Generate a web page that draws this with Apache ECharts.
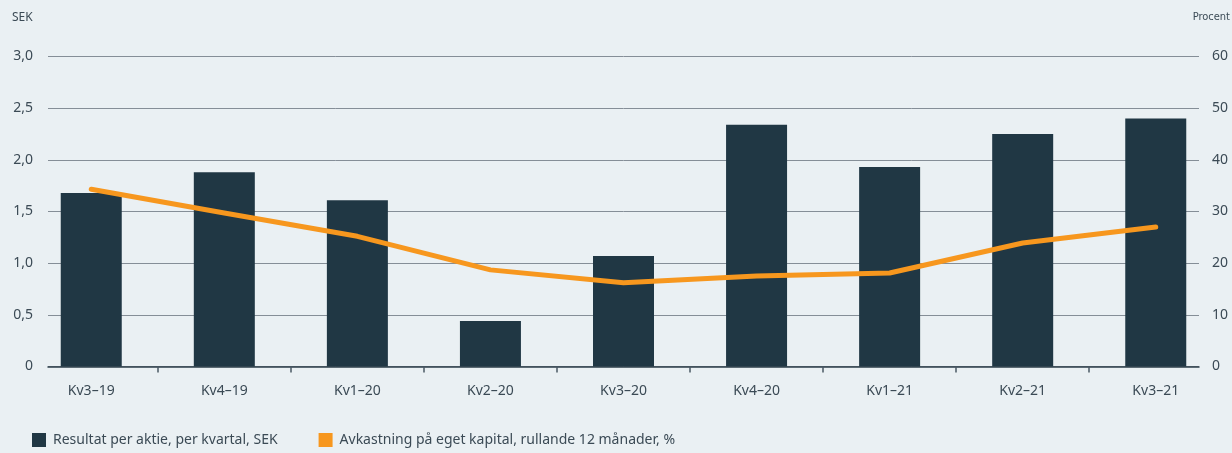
<!DOCTYPE html>
<html>
<head>
<meta charset="utf-8">
<script src="https://cdn.jsdelivr.net/npm/echarts@6/dist/echarts.min.js"></script>
<style>
html,body{margin:0;padding:0;background:#eaf0f3;}
#chart{width:1232px;height:453px;}
</style>
</head>
<body>
<div id="chart"></div>
<script>
const categories = ["Kv3\u201319","Kv4\u201319","Kv1\u201320","Kv2\u201320","Kv3\u201320","Kv4\u201320","Kv1\u201321","Kv2\u201321","Kv3\u201321"];
const resultatPerAktie = [1.68, 1.88, 1.61, 0.44, 1.07, 2.34, 1.93, 2.25, 2.40];
const avkastning = [34.3, 29.7, 25.2, 18.7, 16.2, 17.5, 18.1, 23.9, 27.0];
const leftTicks = ["0","0,5","1,0","1,5","2,0","2,5","3,0"];
const rightTicks = ["0","10","20","30","40","50","60"];
const seriesNames = ["Resultat per aktie, per kvartal, SEK", "Avkastning på eget kapital, rullande 12 månader, %"];

const textColor = '#3b4a55';
const font = '"Noto Sans", sans-serif';

const chart = echarts.init(document.getElementById('chart'), null, {renderer:'canvas'});
const catIdx = categories.map((c,i)=>i);
const tickPos = categories.slice(1).map((c,i)=>i+0.5);

chart.setOption({
  backgroundColor:'#eaf0f3',
  animation:false,
  textStyle:{fontFamily:font,color:textColor},
  grid:{left:48,right:33,top:56.5,bottom:86.5,containLabel:false},
  legend:{
    left:27, top:428, icon:'rect', itemWidth:14, itemHeight:14, itemGap:41,
    textStyle:{fontFamily:font,fontSize:14,color:textColor,padding:[0,0,0,2]},
    data:seriesNames
  },
  graphic:[
    {type:'text',left:12,top:12,style:{text:'SEK',fontFamily:font,fontSize:12,fill:textColor}},
    {type:'text',right:2,top:12,style:{text:'Procent',fontFamily:'"Liberation Sans Narrow","DejaVu Sans Condensed",sans-serif',fontSize:11,fill:textColor}}
  ],
  xAxis:{
    type:'value', min:-0.325, max:8.325,
    splitLine:{show:false},
    axisLine:{show:true,onZero:false,lineStyle:{color:'#2e3f4b',width:1.5}},
    axisTick:{show:true,customValues:tickPos,length:6,lineStyle:{color:'#4a5864',width:1.5}},
    axisLabel:{customValues:catIdx,margin:18,fontSize:14,color:textColor,fontFamily:font,
      formatter:v=>categories[Math.round(v)]||''}
  },
  yAxis:[
    {type:'value',min:0,max:3,interval:0.5,position:'left',
     axisLine:{show:false},axisTick:{show:false},
     splitLine:{show:true,lineStyle:{color:'#858e97',width:1}},
     axisLabel:{margin:15,fontSize:14,color:textColor,fontFamily:font,
       formatter:(v)=>leftTicks[Math.round(v/0.5)]}},
    {type:'value',min:0,max:60,interval:10,position:'right',
     axisLine:{show:false},axisTick:{show:false},splitLine:{show:false},
     axisLabel:{margin:13,fontSize:14,color:textColor,fontFamily:font,
       formatter:(v)=>rightTicks[Math.round(v/10)]}}
  ],
  series:[
    {name:seriesNames[0],type:'bar',yAxisIndex:0,barWidth:61,
     itemStyle:{color:'#203744'},
     data:resultatPerAktie.map((v,i)=>[i,v]), z:2},
    {name:seriesNames[1],type:'line',yAxisIndex:1,showSymbol:false,symbol:'none',
     itemStyle:{color:'#f7971e'},
     lineStyle:{color:'#f7971e',width:5,cap:'round',join:'round'},
     data:avkastning.map((v,i)=>[i,v]), z:3}
  ]
});
</script>
</body>
</html>
